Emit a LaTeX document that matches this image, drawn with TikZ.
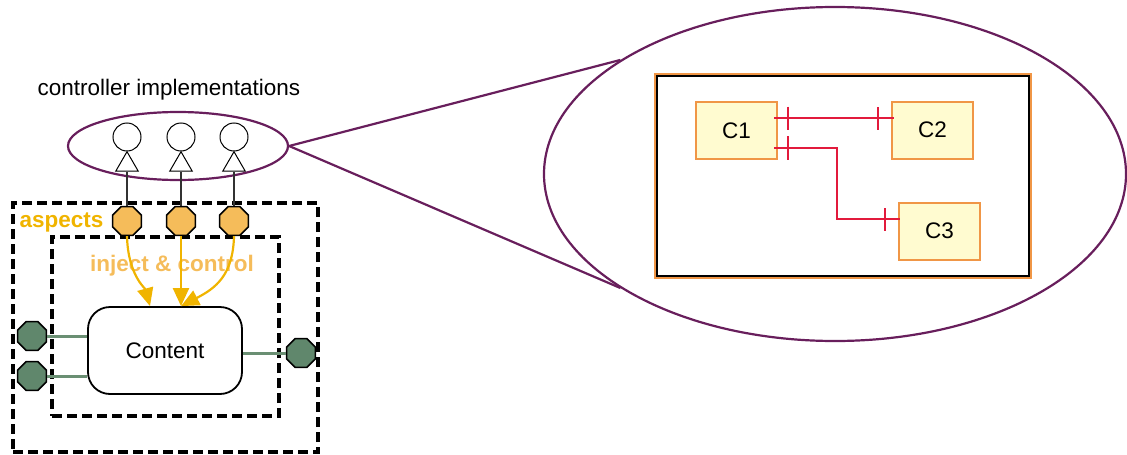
\documentclass[tikz,border=0pt]{standalone}
\usepackage{fontspec}
\setmainfont{Liberation Sans}
\usetikzlibrary{shapes.geometric,arrows.meta}
\definecolor{purp}{RGB}{104,30,92}
\definecolor{aspfill}{RGB}{245,188,90}
\definecolor{aspcol}{RGB}{240,180,0}
\definecolor{injcol}{RGB}{245,188,90}
\definecolor{gold}{RGB}{240,180,0}
\definecolor{gfill}{RGB}{96,135,108}
\definecolor{glinkc}{RGB}{106,143,115}
\definecolor{boxorange}{RGB}{240,150,70}
\definecolor{boxfill}{RGB}{255,251,208}
\definecolor{relred}{RGB}{226,26,60}
\definecolor{vlinec}{RGB}{50,50,50}
\tikzset{
 impl/.style={circle, draw=black, line width=1pt, fill=white, minimum size=28pt, inner sep=0pt},
 tri/.style={regular polygon, regular polygon sides=3, draw=black, line width=1pt, fill=white, minimum size=26pt, inner sep=0pt},
 aspectport/.style={regular polygon, regular polygon sides=8, draw=black, line width=1.6pt, fill=aspfill, minimum size=31pt, inner sep=0pt},
 gport/.style={regular polygon, regular polygon sides=8, draw=black, line width=1.6pt, fill=gfill, minimum size=31pt, inner sep=0pt},
 dashbox/.style={draw=black, line width=3.2pt, dash pattern=on 10pt off 5pt, inner sep=0pt},
 cbox/.style={draw=boxorange, fill=boxfill, line width=2pt, minimum width=81pt, minimum height=57pt, inner sep=0pt},
 redl/.style={draw=relred, line width=1.7pt},
 injarrow/.style={draw=gold, line width=2.2pt, -{Triangle[length=18pt,width=16pt]}},
 glink/.style={draw=glinkc, line width=3pt},
 zoomline/.style={draw=purp, line width=2.2pt},
 vline/.style={draw=vlinec, line width=1.5pt},
 zoomell/.style={ellipse, draw=purp, line width=2.2pt, inner sep=0pt},
}
\begin{document}
\begin{tikzpicture}[x=1pt,y=-1pt,font=\fontsize{22.5}{26}\selectfont]
\useasboundingbox (0,0) rectangle (1127,455);
% zoom ellipses
\node[zoomell, minimum width=582pt, minimum height=334pt] (big) at (835,174) {};
\node[zoomell, minimum width=220pt, minimum height=68pt] (small) at (178,146) {};
\draw[zoomline] (small.east) -- (big.152);
\draw[zoomline] (small.east) -- (big.208);
\node (title) at (169,90) {controller implementations};
% dashed boxes
\node[dashbox, minimum width=305pt, minimum height=249pt] (outer) at (165.5,327.5) {};
\node[dashbox, minimum width=227pt, minimum height=179pt] (inner) at (165.5,326.5) {};
\node[anchor=west, text=aspcol] (asp) at (16,222) {\bfseries aspects};
\node[text=injcol] (inj) at (172,266) {\bfseries inject \& control};
% content
\node[draw=black, rounded corners=22pt, line width=1.8pt, minimum width=154pt, minimum height=87pt, fill=white] (content) at (165,350.5) {Content};
% implementations and aspects
\foreach \i/\x in {1/127,2/181,3/234}{
  \node[impl] (c\i) at (\x,137) {};
  \node[tri] (t\i) at (\x,164.7) {};
  \node[aspectport] (a\i) at (\x,221) {};
  \draw[vline] (t\i.south) -- (a\i.north);
}
\draw[injarrow] (a1.south) .. controls (128,275) and (145,288) .. ([xshift=-15pt]content.north);
\draw[injarrow] (a2.south) -- (a2.south |- content.north);
\draw[injarrow] (a3.south) .. controls (233,275) and (216,288) .. ([xshift=16pt]content.north);
% green ports
\node[gport] (g1) at (32,336) {};
\node[gport] (g2) at (32,376) {};
\node[gport] (g3) at (301,353) {};
\draw[glink] (g1.east) -- (g1.east -| content.west);
\draw[glink] (g2.east) -- (g2.east -| content.west);
\draw[glink] (g3.west) -- (g3.west -| content.east);
% right frame
\node[draw=boxorange, line width=2pt, minimum width=376pt, minimum height=204pt, inner sep=0pt] (frameo) at (842.5,175.5) {};
\node[draw=black, line width=2pt, minimum width=372pt, minimum height=200pt, inner sep=0pt] (frame) at (842.5,175.5) {};
\node[cbox] (C1) at (736.5,130.5) {C1};
\node[cbox] (C2) at (932.5,130) {C2};
\node[cbox] (C3) at (939.5,231) {C3};
\draw[redl] ([shift={(-4,-12.5)}]C1.east) -- ([shift={(3,-12)}]C2.west);
\draw[redl] ([shift={(10,-24)}]C1.east) -- ++(0,23);
\draw[redl] ([shift={(-13,-23)}]C2.west) -- ++(0,23);
\draw[redl] ([shift={(-4,17.5)}]C1.east) -- ++(63,0) |- ([shift={(2,-12)}]C3.west);
\draw[redl] ([shift={(10,5.5)}]C1.east) -- ++(0,24);
\draw[redl] ([shift={(-13,-23)}]C3.west) -- ++(0,23);
\end{tikzpicture}
\end{document}
